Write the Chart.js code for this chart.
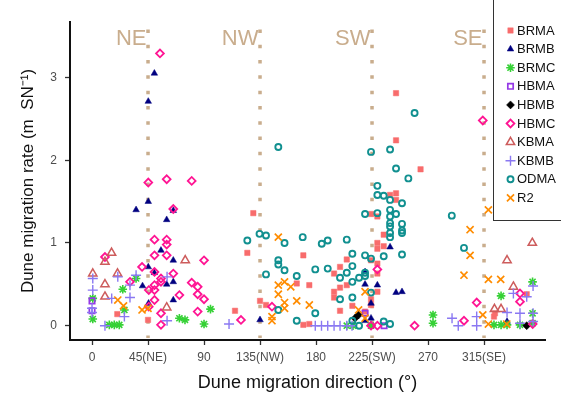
<!DOCTYPE html>
<html>
<head>
<meta charset="utf-8">
<script src="https://cdn.jsdelivr.net/npm/chart.js@4.4.1/dist/chart.umd.min.js"></script>
<style>
  body { margin: 0; background: #fff; }
  canvas { display: block; }
</style>
</head>
<body>
<canvas id="dune" width="561" height="394"></canvas>
<script>
// Points: [direction (deg), migration rate (m SN^-1)]
const brma = [[20.3,0.14],[45,0.07],[129.6,1.36],[124.8,0.88],[114.9,0.18],[135,0.30],[139.8,0.25],
  [169.8,0.85],[164.5,0.51],[174.6,0.49],[169.8,0.01],[174.6,0.02],[244.3,2.81],[244.3,2.24],[264,1.89],
  [244.3,1.60],[239.5,1.58],[244.3,1.52],[224.2,1.35],[229.3,1.32],[234.4,1.10],[229.3,1.00],[234.4,0.96],
  [229.3,0.93],[224.2,0.79],[204.7,0.80],[199.3,0.71],[194.5,0.63],[229.3,0.75],[229.3,0.63],[199.3,0.46],
  [204.7,0.49],[194.5,0.41],[194.5,0.34],[229.3,0.41],[224.2,0.32],[224.2,0.25],[209.2,0.24],[199.3,0.18],
  [219.4,0.17],[323,0.11],[323.8,0.15],[349.3,0.38]];
const brmb = [[50.1,3.05],[45.2,2.71],[35.4,1.40],[45.2,1.50],[65.3,1.39],[60,1.28],[55.4,0.91],[65.3,0.79],
  [45.2,0.71],[50.1,0.64],[40.6,0.48],[60,0.50],[65.3,0.53],[65.3,0.31],[45.4,0.27],[135,0.07],[239.5,0.95],
  [219.4,0.65],[229.3,0.49],[219.4,0.50],[244.3,0.40],[249.1,0.41],[224.2,0.27],[219.4,0.06],[224.2,0.09],
  [333.5,0.05]];
const brmc = [[0.6,0.33],[0.6,0.08],[13.9,0.01],[17.9,0.01],[21.9,0.01],[24.7,0.44],[26,0.19],[35.4,0.57],
  [70.2,0.09],[74.7,0.07],[95.2,0.20],[90,0.02],[204.7,0],[209.7,0],[224.2,0],[274,0.13],[274,0.03],
  [328.7,0.36],[323,0.01],[328.7,0.01],[343.9,0.01],[354,0.53],[354,0.15],[354,0.03],[333.5,0.01]];
const hbma = [[0,0.30],[0,0.18],[219.4,0.15],[234.7,0]];
const hbmb = [[214.1,0.13],[211.3,0.09],[349.3,0]];
const hbmc = [[54.6,3.29],[45.2,1.73],[60,1.77],[80.1,1.75],[65.3,1.41],[10.4,0.83],[30.5,0.53],[40.2,0.71],
  [50.2,1.04],[60,1.04],[60,0.98],[50.2,0.85],[60,0.85],[50.2,0.65],[65.3,0.63],[55.4,0.57],[55.4,0.53],
  [50.2,0.49],[50.2,0.43],[45.6,0.43],[50.2,0.31],[45.6,0.23],[55.4,0.15],[55.4,0.01],[70.2,0.37],[80.1,0.52],
  [84.9,0.47],[84.9,0.38],[90,0.79],[90,0.32],[84.9,0.17],[119.7,0.07],[144.6,0.23],[229.3,0.68],[224.2,0],
  [229.3,0],[259.2,0],[298.9,0.06],[309.1,0.28],[343.9,0.39],[343.9,0.29],[354.1,0.02],[314,2.48]];
const kbma = [[15.7,0.88],[10.4,0.77],[0.6,0.63],[20.5,0.63],[10.4,0.50],[10.4,0.35],[74.9,0.79],[60,0.22],
  [353.8,1.00],[333.5,0.79],[338.6,0.47],[323.4,0.20],[328.7,0.20]];
const kbmb = [[0.6,0.57],[0.6,0.43],[0,0.21],[0,0.16],[10.4,0],[15.8,0.33],[20.7,0.59],[35.4,0.61],[30.5,0.49],
  [30.5,0.34],[26,0.11],[60.3,0.59],[60.3,0.06],[110.1,0.02],[179.4,0],[184.4,0],[189.4,0],[194.5,0],[199.3,0],
  [204.7,0],[208.9,0],[289.3,0.09],[294.3,0],[309.1,0.11],[309.1,0],[338.6,0.39],[349.3,0.35],[354.4,0.48],
  [333.5,0.16],[343.9,0.15],[343.9,0.03],[354.4,0.15],[354.4,0.05]];
const odma = [[149.7,2.16],[124.8,1.03],[134.6,1.11],[139.8,1.09],[154.7,1.00],[169.3,1.07],[184.6,0.99],
  [189.4,1.03],[204.7,1.04],[139.8,0.62],[149.7,0.79],[149.7,0.74],[154.7,0.67],[164.5,0.60],[179.4,0.68],
  [189.4,0.69],[149.7,0.19],[164.5,0.06],[179.4,0.15],[259.2,2.57],[224.2,2.10],[239.5,2.13],[244.3,1.90],
  [254.2,1.78],[229.3,1.69],[229.3,1.58],[234.4,1.57],[239.5,1.52],[249.1,1.48],[219.4,1.35],[229.3,1.36],
  [239.5,1.40],[244.3,1.35],[239.5,1.32],[239.5,1.24],[249.1,1.23],[239.5,1.20],[249.1,1.15],[249.1,1.12],
  [239.5,1.12],[239.5,1.07],[209.2,0.87],[219.4,0.85],[224.2,0.81],[234.4,0.84],[249.1,0.86],[204.7,0.64],
  [199.3,0.58],[209.2,0.72],[209.2,0.53],[214.6,0.58],[219.4,0.64],[219.4,0.60],[199.3,0.32],[209.2,0.34],
  [224.2,0.40],[209.2,0.06],[234.4,0.05],[239.5,0.02],[214.6,0],[289.1,1.33],[298.9,0.94]];
const r2 = [[20.7,0.31],[25.3,0.24],[40.2,0.19],[45,0.21],[144.6,0.11],[144.6,0.06],[149.7,1.07],[149.7,0.49],
  [154.7,0.53],[159.7,0.47],[149.7,0.38],[154.7,0.28],[154.7,0.21],[164.5,0.30],[174.6,0.25],[219.4,0.41],
  [214.2,0.19],[219.4,0.09],[318.5,1.40],[303.8,1.16],[303.8,0.85],[298.9,0.61],[318.5,0.56],[328.4,0.56],
  [314,0.13],[318.5,0.02],[333.3,0.02]];

const seriesNames = ['BRMA', 'BRMB', 'BRMC', 'HBMA', 'HBMB', 'HBMC', 'KBMA', 'KBMB', 'ODMA', 'R2'];
const seriesData = [brma, brmb, brmc, hbma, hbmb, hbmc, kbma, kbmb, odma, r2];

const xTickValues = [0, 45, 90, 135, 180, 225, 270, 315];
const xTickLabels = ['0', '45(NE)', '90', '135(NW)', '180', '225(SW)', '270', '315(SE)'];
const yTickValues = [0, 1, 2, 3];
const compassDirs = [45, 135, 225, 315];
const compassLabels = ['NE', 'NW', 'SW', 'SE'];

// marker look per series
const styles = [
  { pointStyle: 'rect', color: '#f86c6c', fill: true, radius: 3.8, bw: 0.5 },
  { pointStyle: 'triangle', color: '#000080', fill: true, radius: 3.8, bw: 0.5 },
  { pointStyle: 'star', color: '#36d136', fill: false, radius: 4.3, bw: 1.6 },
  { pointStyle: 'rect', color: '#9538e6', fill: false, radius: 3.8, bw: 1.7 },
  { pointStyle: 'rectRot', color: '#000000', fill: true, radius: 4, bw: 0.5 },
  { pointStyle: 'rectRot', color: '#ff1493', fill: false, radius: 3.9, bw: 1.8 },
  { pointStyle: 'triangle', color: '#cd5c5c', fill: false, radius: 4.8, bw: 1.5 },
  { pointStyle: 'cross', color: '#8a78f2', fill: false, radius: 5, bw: 1.4 },
  { pointStyle: 'circle', color: '#119090', fill: false, radius: 3, bw: 1.9 },
  { pointStyle: 'crossRot', color: '#ff8c00', fill: false, radius: 5, bw: 1.7 }
];
const tan = '#c9ad8d';
const font = '"Liberation Sans", Arial, sans-serif';

const datasets = seriesData.map((pts, i) => ({
  label: seriesNames[i],
  data: pts.map(([x, y]) => ({ x, y })),
  pointStyle: styles[i].pointStyle,
  pointRadius: styles[i].radius,
  pointBorderWidth: styles[i].bw,
  pointBorderColor: styles[i].color,
  pointBackgroundColor: styles[i].fill ? styles[i].color : 'rgba(0,0,0,0)',
  order: 20 - i
}));

// dotted compass guides
compassDirs.forEach(d => {
  datasets.push({
    label: '',
    data: [{ x: d, y: 3.58 }, { x: d, y: -0.15 }],
    showLine: true,
    borderColor: tan,
    borderWidth: 3.5,
    borderDash: [3.5, 11.8],
    borderCapStyle: 'butt',
    pointRadius: 0,
    order: 100
  });
});

const extras = {
  id: 'extras',
  beforeDatasetsDraw(chart) {
    const { ctx } = chart;
    const xs = chart.scales.x, ys = chart.scales.y;
    ctx.save();
    ctx.font = '22px ' + font;
    ctx.fillStyle = tan;
    ctx.textAlign = 'right';
    ctx.textBaseline = 'alphabetic';
    compassDirs.forEach((d, i) => {
      ctx.fillText(compassLabels[i], xs.getPixelForValue(d) - 1.5, ys.getPixelForValue(3.39));
    });
    ctx.restore();
  },
  afterDraw(chart) {
    const { ctx } = chart;
    ctx.save();
    ctx.fillStyle = '#fff';
    ctx.fillRect(493.5, -5, 80, 225.5);
    ctx.strokeStyle = '#333';
    ctx.lineWidth = 1;
    ctx.strokeRect(493.5, -5, 80, 225.5);
    ctx.font = '13px ' + font;
    ctx.textAlign = 'left';
    ctx.textBaseline = 'middle';
    seriesNames.forEach((name, i) => {
      const y = 30.5 + i * 18.6;
      const s = styles[i];
      ctx.save();
      ctx.fillStyle = s.fill ? s.color : 'rgba(0,0,0,0)';
      ctx.strokeStyle = s.color;
      ctx.lineWidth = s.bw;
      Chart.helpers.drawPoint(ctx, { pointStyle: s.pointStyle, radius: s.radius, rotation: 0, borderWidth: s.bw }, 510.5, y);
      ctx.restore();
      ctx.fillStyle = '#111';
      ctx.fillText(name, 517, y + 0.5);
    });
    ctx.restore();
  }
};

new Chart(document.getElementById('dune'), {
  type: 'scatter',
  data: { datasets },
  options: {
    responsive: false,
    animation: false,
    devicePixelRatio: 1,
    layout: { padding: { top: 22, right: 16, left: 0, bottom: 0 } },
    plugins: { legend: { display: false }, tooltip: { enabled: false } },
    scales: {
      x: {
        type: 'linear',
        min: -17.7,
        max: 364,
        afterBuildTicks: s => { s.ticks = xTickValues.map(v => ({ value: v })); },
        afterFit: s => { s.height = 54; },
        ticks: {
          callback: (v, i) => xTickLabels[i],
          font: { family: font, size: 12 },
          color: '#4d4d4d',
          padding: 5,
          maxRotation: 0,
          autoSkip: false
        },
        grid: { drawOnChartArea: false, tickLength: 5, tickWidth: 1.3, tickColor: '#333' },
        border: { color: '#111', width: 2 },
        title: {
          display: true,
          text: 'Dune migration direction (°)',
          font: { family: font, size: 18 },
          color: '#111',
          padding: { top: 0, bottom: 0 }
        }
      },
      y: {
        type: 'linear',
        min: -0.173,
        max: 3.67,
        afterBuildTicks: s => { s.ticks = yTickValues.map(v => ({ value: v })); },
        afterFit: s => { s.width = 70; },
        ticks: {
          font: { family: font, size: 12 },
          color: '#4d4d4d',
          padding: 8
        },
        grid: { drawOnChartArea: false, tickLength: 5, tickWidth: 1.3, tickColor: '#333' },
        border: { color: '#111', width: 2 },
        title: {
          display: true,
          text: 'Dune migration rate (m  SN⁻¹)',
          font: { family: font, size: 17 },
          color: '#111',
          padding: { top: 18, bottom: 0 }
        }
      }
    }
  },
  plugins: [extras]
});
</script>
</body>
</html>
